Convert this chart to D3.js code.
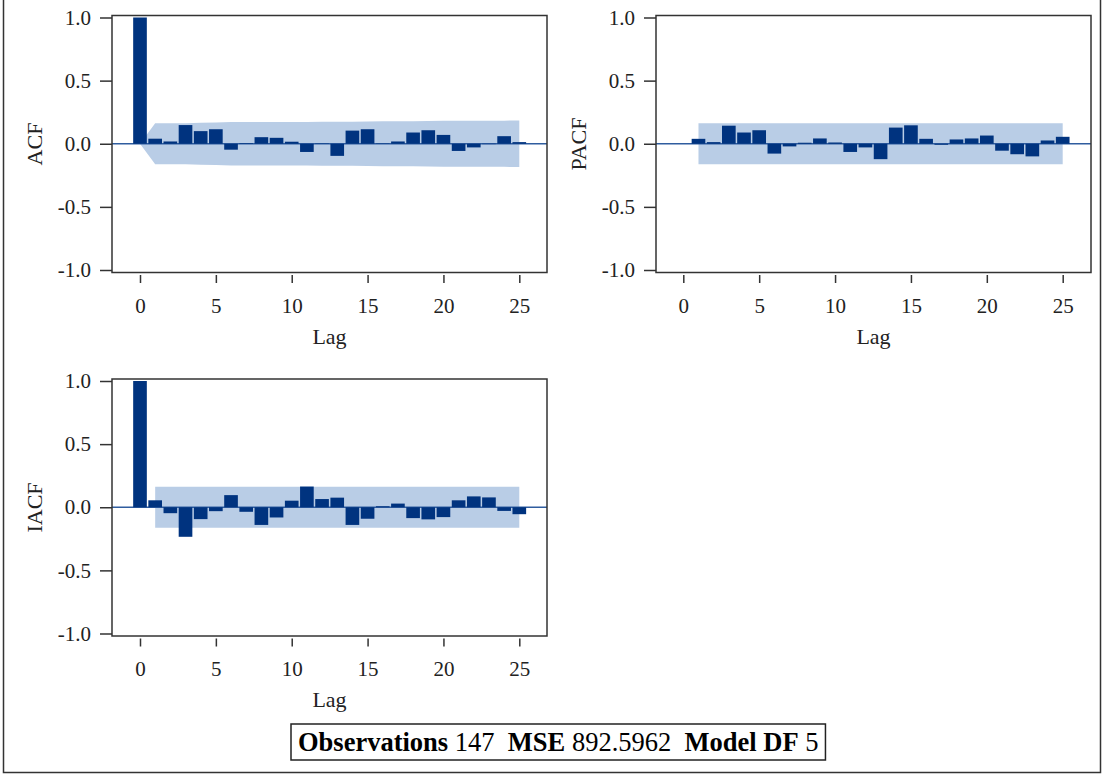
<!DOCTYPE html>
<html>
<head>
<meta charset="utf-8">
<script src="https://cdn.jsdelivr.net/npm/d3@7"></script>
<style>
  body { margin: 0; background: #fff; }
  svg { display: block; }
  text { font-family: "Liberation Serif", "Times New Roman", serif; fill: #222; }
  .tick-label { font-size: 21px; }
  .axis-label { font-size: 22px; }
  .footer { font-size: 26.5px; fill: #000; }
</style>
</head>
<body>
<script>
// lags shown on every panel
var lags = [0, 1, 2, 3, 4, 5, 6, 7, 8, 9, 10, 11, 12, 13, 14, 15, 16, 17, 18, 19, 20, 21, 22, 23, 24, 25];
var pacfLags = [1, 2, 3, 4, 5, 6, 7, 8, 9, 10, 11, 12, 13, 14, 15, 16, 17, 18, 19, 20, 21, 22, 23, 24, 25];

// values
var acfValues = [1.0, 0.04, 0.018, 0.148, 0.10, 0.115, -0.047, 0.005, 0.052, 0.047, 0.016, -0.065, 0.003,
  -0.096, 0.104, 0.115, 0.003, 0.018, 0.089, 0.107, 0.07, -0.057, -0.029, -0.003, 0.06, 0.013];
var acfBand = [0, 0.162, 0.163, 0.163, 0.167, 0.169, 0.172, 0.172, 0.172, 0.173, 0.173, 0.173, 0.174,
  0.174, 0.175, 0.177, 0.179, 0.179, 0.179, 0.18, 0.182, 0.183, 0.183, 0.183, 0.183, 0.184];

var pacfValues = [0.039, 0.013, 0.143, 0.089, 0.107, -0.078, -0.021, 0.008, 0.042, 0.01, -0.065, -0.029,
  -0.122, 0.128, 0.146, 0.039, -0.008, 0.034, 0.042, 0.065, -0.055, -0.083, -0.1, 0.026, 0.055];
var pacfBand = [0.162, 0.162];   // flat band, lag 1 to lag 25

var iacfValues = [1.0, 0.055, -0.047, -0.234, -0.094, -0.031, 0.096, -0.036, -0.14, -0.081, 0.052, 0.164,
  0.065, 0.076, -0.14, -0.091, 0.008, 0.029, -0.086, -0.096, -0.078, 0.055, 0.086, 0.078, -0.029, -0.055];
var iacfBand = [0.162, 0.162];

var xTicks = [0, 5, 10, 15, 20, 25];
var yTicks = [-1.0, -0.5, 0.0, 0.5, 1.0];

var footerParts = [
  {text: "Observations", bold: true}, {text: " 147  ", bold: false},
  {text: "MSE", bold: true}, {text: " 892.5962  ", bold: false},
  {text: "Model DF", bold: true}, {text: " 5", bold: false}
];

var width = 1105, height = 776;
var barColor = "#00337f", bandColor = "#b9cde6", zeroColor = "#2f5d9f";

var svg = d3.select("body").append("svg")
  .attr("width", width)
  .attr("height", height);

// outer border (top edge sits off the canvas)
svg.append("rect")
  .attr("x", 3.5).attr("y", -2)
  .attr("width", 1097).attr("height", 774.5)
  .attr("fill", "none").attr("stroke", "#333").attr("stroke-width", 1.5);

var panels = [
  {name: "ACF", left: 112, right: 547, top: 15.5, bottom: 272.5, x0: 140, x25: 519.3,
    lags: lags, values: acfValues, band: acfBand, bandLags: lags},
  {name: "PACF", left: 656, right: 1091, top: 15.5, bottom: 272.5, x0: 683.3, x25: 1062.7,
    lags: pacfLags, values: pacfValues, band: pacfBand, bandLags: [1, 25]},
  {name: "IACF", left: 112, right: 547, top: 379, bottom: 636, x0: 140, x25: 519.3,
    lags: lags, values: iacfValues, band: iacfBand, bandLags: [1, 25]}
];

panels.forEach(drawPanel);

function drawPanel(p) {
  var x = d3.scaleLinear().domain([0, 25]).range([p.x0, p.x25]);
  var y = d3.scaleLinear().domain([-1, 1]).range([p.bottom - 2.5, p.top + 2]);
  var step = x(1) - x(0);
  var g = svg.append("g");

  // confidence band
  var area = d3.area()
    .x(function(d, i) { return x(p.bandLags[i]); })
    .y0(function(d) { return y(-d); })
    .y1(function(d) { return y(d); });
  g.append("path")
    .datum(p.band)
    .attr("d", area)
    .attr("fill", bandColor);

  // zero reference line
  g.append("line")
    .attr("x1", p.left).attr("x2", p.right)
    .attr("y1", y(0)).attr("y2", y(0))
    .attr("stroke", zeroColor).attr("stroke-width", 1.5);

  // bars
  g.selectAll("rect.bar")
    .data(p.values)
    .enter().append("rect")
    .attr("class", "bar")
    .attr("x", function(d, i) { return x(p.lags[i]) - step * 0.45; })
    .attr("width", step * 0.9)
    .attr("y", function(d) { return y(Math.max(0, d)); })
    .attr("height", function(d) { return Math.abs(y(d) - y(0)); })
    .attr("fill", barColor);

  // frame
  g.append("rect")
    .attr("x", p.left).attr("y", p.top)
    .attr("width", p.right - p.left).attr("height", p.bottom - p.top)
    .attr("fill", "none").attr("stroke", "#333").attr("stroke-width", 1.5);

  // y axis
  var yAxis = d3.axisLeft(y)
    .tickValues(yTicks)
    .tickSize(12)
    .tickSizeOuter(0)
    .tickPadding(9)
    .tickFormat(function(d) { return d.toFixed(1); });
  var ya = g.append("g").attr("transform", "translate(" + p.left + ",0)").call(yAxis);
  ya.select(".domain").remove();
  ya.selectAll(".tick line").attr("stroke", "#333").attr("stroke-width", 1.5);
  ya.selectAll(".tick text").attr("class", "tick-label").attr("font-family", null).attr("font-size", null);

  // x axis, ticks hang just below the frame
  var xAxis = d3.axisBottom(x)
    .tickValues(xTicks)
    .tickSize(8)
    .tickSizeOuter(0)
    .tickPadding(15);
  var xa = g.append("g").attr("transform", "translate(0," + (p.bottom + 2.5) + ")").call(xAxis);
  xa.select(".domain").remove();
  xa.selectAll(".tick line").attr("stroke", "#333").attr("stroke-width", 1.5);
  xa.selectAll(".tick text").attr("class", "tick-label").attr("font-family", null).attr("font-size", null);

  // axis titles
  g.append("text")
    .attr("class", "axis-label")
    .attr("text-anchor", "middle")
    .attr("x", (p.left + p.right) / 2)
    .attr("y", p.bottom + 71)
    .text("Lag");
  g.append("text")
    .attr("class", "axis-label")
    .attr("text-anchor", "middle")
    .attr("transform", "translate(" + (p.left - 70) + "," + ((p.top + p.bottom) / 2) + ") rotate(-90)")
    .text(p.name);
}

// footer box
var footer = svg.append("g");
var ft = footer.append("text")
  .attr("class", "footer")
  .attr("x", 298)
  .attr("y", 751)
  .attr("xml:space", "preserve")
  .style("white-space", "pre");
ft.selectAll("tspan")
  .data(footerParts)
  .enter().append("tspan")
  .attr("font-weight", function(d) { return d.bold ? "bold" : "normal"; })
  .text(function(d) { return d.text; });
var bb = ft.node().getBBox();
footer.insert("rect", "text")
  .attr("x", bb.x - 7).attr("y", 724)
  .attr("width", bb.width + 14).attr("height", 36)
  .attr("fill", "#fff").attr("stroke", "#222").attr("stroke-width", 1.5);
</script>
</body>
</html>
